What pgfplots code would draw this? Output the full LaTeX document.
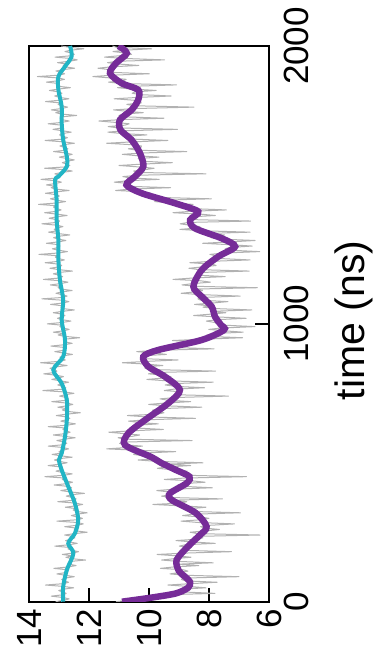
\documentclass[border=0pt]{standalone}
\usepackage{pgfplots}
\usepackage{pgfplotstable}
\pgfplotsset{compat=1.18}
\usepackage{fontspec}
\setmainfont{Liberation Sans}
\definecolor{pgray}{RGB}{178,178,178}
\definecolor{mycyan}{RGB}{34,181,197}
\definecolor{mypurple}{RGB}{118,44,152}

\pgfplotstableread[row sep=\\]{
t v\\
0 11.1\\5 10.67\\10 9.83\\15 9.83\\20 10.13\\25 9.42\\30 7.8\\35 8.85\\40 9.0\\45 8.95\\50 8.1\\55 8.69\\60 9.37\\65 8.6\\70 7.73\\75 8.78\\80 8.92\\85 8.86\\90 7.0\\95 8.75\\
100 9.3\\105 9.0\\110 8.7\\115 8.86\\120 9.62\\125 9.18\\130 8.34\\135 9.05\\140 7.86\\145 9.02\\150 9.58\\155 9.14\\160 8.6\\165 9.07\\170 9.73\\175 8.79\\180 7.25\\185 8.86\\190 8.77\\195 8.58\\
200 8.99\\205 8.79\\210 7.79\\215 8.55\\220 9.1\\225 8.4\\230 8.2\\235 8.45\\240 6.3\\245 8.37\\250 8.63\\255 8.09\\260 7.65\\265 8.17\\270 8.28\\275 7.97\\280 7.15\\285 8.34\\290 8.93\\295 8.27\\
300 8.0\\305 8.29\\310 8.88\\315 8.52\\320 6.95\\325 8.64\\330 8.72\\335 8.61\\340 8.1\\345 8.94\\350 9.87\\355 8.91\\360 8.74\\365 9.35\\370 7.55\\375 9.27\\380 9.58\\385 9.24\\390 9.2\\395 9.32\\
400 9.74\\405 9.17\\410 7.89\\415 8.82\\420 9.04\\425 8.84\\430 8.13\\435 8.56\\440 9.49\\445 8.82\\450 6.75\\455 8.75\\460 8.94\\465 8.89\\470 8.73\\475 9.23\\480 9.72\\485 9.42\\490 8.61\\495 9.41\\
500 8.2\\505 9.73\\510 10.36\\515 9.69\\520 9.72\\525 10.17\\530 10.51\\535 10.21\\540 9.11\\545 10.36\\550 11.41\\555 10.72\\560 10.22\\565 10.85\\570 10.98\\575 10.67\\580 8.56\\585 10.8\\590 11.03\\595 10.57\\
600 10.31\\605 10.83\\610 11.34\\615 10.58\\620 9.52\\625 10.42\\630 10.51\\635 10.45\\640 9.69\\645 10.34\\650 10.68\\655 10.02\\660 8.45\\665 10.04\\670 10.72\\675 9.71\\680 9.5\\685 9.89\\690 9.87\\695 9.61\\
700 8.24\\705 9.43\\710 10.01\\715 9.46\\720 8.61\\725 9.37\\730 9.63\\735 9.09\\740 7.35\\745 9.16\\750 9.07\\755 8.88\\760 9.49\\765 9.17\\770 8.15\\775 9.11\\780 9.46\\785 9.16\\790 7.86\\795 9.42\\
800 10.07\\805 9.52\\810 9.27\\815 9.45\\820 10.02\\825 9.75\\830 7.78\\835 9.71\\840 10.13\\845 10.14\\850 9.54\\855 10.07\\860 10.89\\865 10.06\\870 9.03\\875 10.26\\880 10.28\\885 10.2\\890 9.42\\895 9.82\\
900 10.41\\905 9.72\\910 7.83\\915 9.18\\920 9.43\\925 9.08\\930 8.42\\935 8.52\\940 9.22\\945 8.15\\950 6.88\\955 8.08\\960 8.07\\965 7.87\\970 6.86\\975 7.49\\980 8.01\\985 7.59\\990 6.47\\995 7.45\\
1000 7.73\\1005 7.81\\1010 8.09\\1015 7.73\\1020 6.76\\1025 7.74\\1030 8.51\\1035 7.93\\1040 7.44\\1045 7.96\\1050 6.57\\1055 7.79\\1060 8.2\\1065 7.99\\1070 8.48\\1075 7.88\\1080 7.37\\1085 8.27\\1090 8.37\\1095 8.22\\
1100 6.96\\1105 8.25\\1110 8.93\\1115 8.47\\1120 8.21\\1125 8.55\\1130 6.39\\1135 8.4\\1140 8.9\\1145 8.53\\1150 7.95\\1155 8.28\\1160 9.2\\1165 8.53\\1170 7.46\\1175 8.34\\1180 8.41\\1185 8.24\\1190 6.66\\1195 8.32\\
1200 8.67\\1205 8.22\\1210 7.76\\1215 7.9\\1220 8.64\\1225 7.94\\1230 6.63\\1235 7.62\\1240 7.71\\1245 7.79\\1250 7.97\\1255 7.49\\1260 6.31\\1265 7.29\\1270 7.46\\1275 7.31\\1280 6.56\\1285 7.34\\1290 8.21\\1295 7.29\\
1300 6.46\\1305 7.6\\1310 7.93\\1315 7.61\\1320 7.48\\1325 8.16\\1330 6.63\\1335 8.25\\1340 8.97\\1345 8.39\\1350 8.3\\1355 8.63\\1360 8.96\\1365 8.69\\1370 6.61\\1375 8.5\\1380 8.68\\1385 8.59\\1390 7.79\\1395 8.3\\
1400 9.2\\1405 8.61\\1410 7.42\\1415 8.65\\1420 8.97\\1425 8.85\\1430 8.53\\1435 9.27\\1440 9.81\\1445 9.57\\1450 7.92\\1455 9.68\\1460 10.23\\1465 10.14\\1470 9.94\\1475 10.18\\1480 11.11\\1485 10.65\\1490 9.28\\1495 10.67\\
1500 10.85\\1505 10.66\\1510 11.16\\1515 10.71\\1520 9.66\\1525 10.62\\1530 10.87\\1535 10.34\\1540 8.1\\1545 10.41\\1550 10.51\\1555 10.12\\1560 9.83\\1565 10.37\\1570 11.0\\1575 10.21\\1580 9.22\\1585 10.19\\1590 10.25\\1595 10.36\\
1600 9.67\\1605 10.38\\1610 10.89\\1615 10.22\\1620 8.74\\1625 10.42\\1630 10.69\\1635 10.27\\1640 10.25\\1645 10.63\\1650 11.41\\1655 10.54\\1660 9.37\\1665 10.57\\1670 10.77\\1675 10.82\\1680 10.07\\1685 10.92\\1690 11.37\\1695 10.81\\
1700 9.05\\1705 11.01\\1710 11.36\\1715 10.81\\1720 10.66\\1725 11.12\\1730 11.67\\1735 10.94\\1740 9.5\\1745 10.8\\1750 11.0\\1755 10.85\\1760 10.19\\1765 10.74\\1770 11.18\\1775 10.44\\1780 8.5\\1785 10.52\\1790 10.74\\1795 10.26\\
1800 10.28\\1805 10.52\\1810 11.16\\1815 10.36\\1820 9.26\\1825 10.31\\1830 10.56\\1835 10.46\\1840 9.76\\1845 10.56\\1850 11.05\\1855 10.57\\1860 9.08\\1865 10.92\\1870 11.35\\1875 10.86\\1880 10.76\\1885 11.27\\1890 11.87\\1895 11.23\\
1900 9.99\\1905 11.22\\1910 11.35\\1915 11.33\\1920 11.7\\1925 11.27\\1930 10.34\\1935 11.01\\1940 11.38\\1945 11.08\\1950 9.48\\1955 10.78\\1960 11.48\\1965 10.98\\1970 10.58\\1975 10.79\\1980 11.2\\1985 10.81\\1990 9.91\\1995 11.07\\
2000 11.22\\
}\purplegray

\pgfplotstableread[row sep=\\]{
t v\\
0 13.11\\5 12.86\\10 12.66\\15 12.86\\20 13.26\\25 12.86\\30 12.76\\35 12.86\\40 13.01\\45 12.86\\50 12.51\\55 12.85\\60 13.45\\65 12.84\\70 12.68\\75 12.82\\80 12.91\\85 12.8\\90 12.49\\95 12.78\\
100 13.07\\105 12.76\\110 12.7\\115 12.73\\120 13.17\\125 12.7\\130 12.43\\135 12.66\\140 12.69\\145 12.62\\150 12.11\\155 12.59\\160 12.77\\165 12.55\\170 12.89\\175 12.55\\180 12.35\\185 12.57\\190 12.7\\195 12.62\\
200 13.14\\205 12.66\\210 12.39\\215 12.66\\220 12.78\\225 12.6\\230 12.47\\235 12.54\\240 12.81\\245 12.48\\250 12.06\\255 12.45\\260 12.49\\265 12.42\\270 12.81\\275 12.4\\280 12.19\\285 12.38\\290 13.07\\295 12.37\\
300 12.22\\305 12.38\\310 12.59\\315 12.4\\320 12.06\\325 12.42\\330 12.53\\335 12.43\\340 12.79\\345 12.45\\350 12.21\\355 12.47\\360 13.04\\365 12.51\\370 12.43\\375 12.54\\380 12.76\\385 12.58\\390 12.15\\395 12.62\\
400 12.94\\405 12.66\\410 12.58\\415 12.69\\420 13.16\\425 12.73\\430 12.55\\435 12.77\\440 12.89\\445 12.8\\450 13.47\\455 12.84\\460 12.56\\465 12.88\\470 13.1\\475 12.91\\480 12.88\\485 12.94\\490 13.36\\495 12.97\\
500 12.73\\505 12.99\\510 13.15\\515 12.98\\520 12.56\\525 12.94\\530 13.23\\535 12.91\\540 13.0\\545 12.89\\550 12.68\\555 12.87\\560 13.36\\565 12.85\\570 12.74\\575 12.83\\580 13.07\\585 12.81\\590 12.46\\595 12.8\\
600 13.19\\605 12.78\\610 12.63\\615 12.77\\620 12.87\\625 12.76\\630 13.36\\635 12.75\\640 12.45\\645 12.74\\650 12.94\\655 12.74\\660 12.64\\665 12.74\\670 13.09\\675 12.74\\680 12.29\\685 12.74\\690 12.89\\695 12.74\\
700 13.04\\705 12.74\\710 12.54\\715 12.74\\720 13.24\\725 12.74\\730 12.69\\735 12.76\\740 12.98\\745 12.79\\750 12.5\\755 12.82\\760 13.54\\765 12.85\\770 12.77\\775 12.88\\780 13.04\\785 12.91\\790 12.68\\795 12.96\\
800 13.24\\805 13.02\\810 12.85\\815 13.08\\820 13.51\\825 13.14\\830 13.07\\835 13.16\\840 13.3\\845 13.11\\850 12.73\\855 13.04\\860 13.61\\865 12.97\\870 12.79\\875 12.9\\880 12.97\\885 12.86\\890 12.55\\895 12.84\\
900 13.14\\905 12.83\\910 12.78\\915 12.82\\920 13.27\\925 12.81\\930 12.56\\935 12.8\\940 12.85\\945 12.8\\950 12.31\\955 12.82\\960 13.03\\965 12.83\\970 13.19\\975 12.85\\980 12.66\\985 12.86\\990 12.97\\995 12.88\\
1000 13.39\\1005 12.89\\1010 12.6\\1015 12.9\\1020 13.05\\1025 12.9\\1030 12.8\\1035 12.89\\1040 13.19\\1045 12.89\\1050 12.49\\1055 12.88\\1060 12.93\\1065 12.88\\1070 13.28\\1075 12.87\\1080 12.67\\1085 12.87\\1090 13.57\\1095 12.87\\
1100 12.73\\1105 12.89\\1110 13.1\\1115 12.9\\1120 12.56\\1125 12.92\\1130 13.03\\1135 12.93\\1140 13.29\\1145 12.94\\1150 12.7\\1155 12.96\\1160 13.52\\1165 12.97\\1170 12.88\\1175 12.98\\1180 13.19\\1185 12.99\\1190 12.55\\1195 13.0\\
1200 13.3\\1205 13.0\\1210 12.91\\1215 13.01\\1220 13.46\\1225 13.01\\1230 12.82\\1235 13.02\\1240 13.12\\1245 13.02\\1250 13.67\\1255 13.02\\1260 12.72\\1265 13.02\\1270 13.22\\1275 13.02\\1280 12.97\\1285 13.02\\1290 13.42\\1295 13.02\\
1300 12.77\\1305 13.02\\1310 13.18\\1315 13.03\\1320 12.64\\1325 13.04\\1330 13.35\\1335 13.05\\1340 13.16\\1345 13.06\\1350 12.87\\1355 13.07\\1360 13.57\\1365 13.07\\1370 12.98\\1375 13.08\\1380 13.33\\1385 13.08\\1390 12.73\\1395 13.08\\
1400 13.48\\1405 13.08\\1410 12.93\\1415 13.08\\1420 13.18\\1425 13.08\\1430 13.68\\1435 13.08\\1440 12.78\\1445 13.08\\1450 13.29\\1455 13.09\\1460 12.99\\1465 13.09\\1470 13.45\\1475 13.1\\1480 12.66\\1485 13.11\\1490 13.26\\1495 13.11\\
1500 13.42\\1505 13.12\\1510 12.92\\1515 13.11\\1520 13.6\\1525 13.06\\1530 12.97\\1535 12.98\\1540 13.14\\1545 12.9\\1550 12.56\\1555 12.82\\1560 13.48\\1565 12.76\\1570 12.64\\1575 12.74\\1580 12.89\\1585 12.74\\1590 12.49\\1595 12.74\\
1600 12.99\\1605 12.75\\1610 12.56\\1615 12.77\\1620 13.18\\1625 12.79\\1630 12.7\\1635 12.81\\1640 12.97\\1645 12.83\\1650 12.49\\1655 12.85\\1660 13.46\\1665 12.86\\1670 12.72\\1675 12.87\\1680 12.98\\1685 12.88\\1690 12.59\\1695 12.89\\
1700 13.2\\1705 12.9\\1710 12.85\\1715 12.9\\1720 13.36\\1725 12.91\\1730 12.66\\1735 12.91\\1740 12.96\\1745 12.91\\1750 12.41\\1755 12.91\\1760 13.11\\1765 12.91\\1770 13.26\\1775 12.91\\1780 12.71\\1785 12.92\\1790 13.03\\1795 12.94\\
1800 13.45\\1805 12.96\\1810 12.67\\1815 12.98\\1820 13.14\\1825 12.99\\1830 12.9\\1835 13.01\\1840 13.32\\1845 13.02\\1850 12.62\\1855 13.02\\1860 13.07\\1865 13.02\\1870 13.42\\1875 13.02\\1880 12.82\\1885 13.02\\1890 13.72\\1895 12.99\\
1900 12.81\\1905 12.93\\1910 13.1\\1915 12.86\\1920 12.48\\1925 12.8\\1930 12.86\\1935 12.73\\1940 13.05\\1945 12.67\\1950 12.39\\1955 12.61\\1960 13.13\\1965 12.58\\1970 12.49\\1975 12.59\\1980 12.8\\1985 12.61\\1990 12.17\\1995 12.62\\
2000 12.93\\
}\cyangray

\pgfplotstableread[row sep=\\]{
t v\\
0 10.9\\15 9.9\\30 9.1\\50 8.7\\70 8.63\\90 8.8\\110 9.0\\150 9.08\\200 8.69\\240 8.3\\270 8.08\\
320 8.45\\366 9.24\\390 9.3\\426 8.75\\450 8.65\\474 9.1\\500 9.6\\522 9.95\\564 10.8\\606 10.69\\
654 10.13\\714 9.36\\762 8.97\\810 9.47\\846 10.02\\882 10.19\\906 9.69\\942 8.24\\978 7.5\\996 7.6\\
1026 7.8\\1062 7.91\\1098 8.24\\1134 8.52\\1194 8.24\\1242 7.69\\1278 7.13\\1308 7.58\\1344 8.47\\
1374 8.63\\1404 8.36\\1434 9.13\\1470 10.24\\1500 10.75\\1530 10.47\\1566 10.19\\1614 10.3\\1662 10.58\\
1698 10.95\\1734 10.97\\1770 10.58\\1806 10.36\\1842 10.36\\1866 10.91\\1902 11.3\\1938 11.1\\1974 10.74\\2000 11.02\\
}\purplesmooth

\pgfplotstableread[row sep=\\]{
t v\\
0 12.86\\54 12.86\\114 12.74\\174 12.52\\210 12.69\\246 12.47\\294 12.36\\354 12.47\\414 12.69\\474 12.91\\
510 13.0\\534 12.91\\594 12.8\\654 12.74\\726 12.74\\786 12.91\\834 13.19\\882 12.86\\942 12.8\\1014 12.91\\
1086 12.86\\1158 12.97\\1230 13.02\\1302 13.02\\1374 13.08\\1446 13.08\\1518 13.13\\1530 13.02\\1566 12.74\\
1602 12.74\\1662 12.86\\1722 12.91\\1782 12.91\\1842 13.02\\1890 13.02\\1926 12.8\\1962 12.58\\2000 12.63\\
}\cyansmooth

\begin{document}
\begin{tikzpicture}
\useasboundingbox (-29bp,-60.3bp) rectangle (347bp,601.7bp);
\begin{axis}[
  at={(0,0)}, anchor=south west,
  scale only axis, width=240bp, height=555.7bp,
  xmin=6, xmax=14, x dir=reverse,
  ymin=0, ymax=2000,
  xtick={6,8,10,12,14}, xticklabels={6,8,10,12,14},
  ytick={0,1000,2000}, yticklabels={0,1000,2000},
  tick align=inside,
  xtick pos=bottom, ytick pos=right, yticklabel pos=right,
  major tick length=14bp,
  every tick/.style={black, line width=2bp},
  axis line style={line width=2bp},
  ticklabel style={font=\fontsize{35bp}{40bp}\selectfont, inner sep=0pt},
  xticklabel style={rotate=90, anchor=east},
  yticklabel style={rotate=90, anchor=north},
  xticklabel shift=7bp,
  yticklabel shift=15bp,
  ylabel={time (ns)},
  every axis y label/.style={at={(axis description cs:1.275,0.506)}, rotate=90, anchor=north, inner sep=0pt, font=\fontsize{41bp}{46bp}\selectfont},
  clip=true,
]
\addplot[pgray, line width=1bp, line join=round] table[x=v, y=t] {\purplegray};
\addplot[pgray, line width=1bp, line join=round] table[x=v, y=t] {\cyangray};
\addplot[mycyan, line width=4bp, smooth] table[x=v, y=t] {\cyansmooth};
\addplot[mypurple, line width=6.5bp, smooth] table[x=v, y=t] {\purplesmooth};
\end{axis}
\end{tikzpicture}
\end{document}
